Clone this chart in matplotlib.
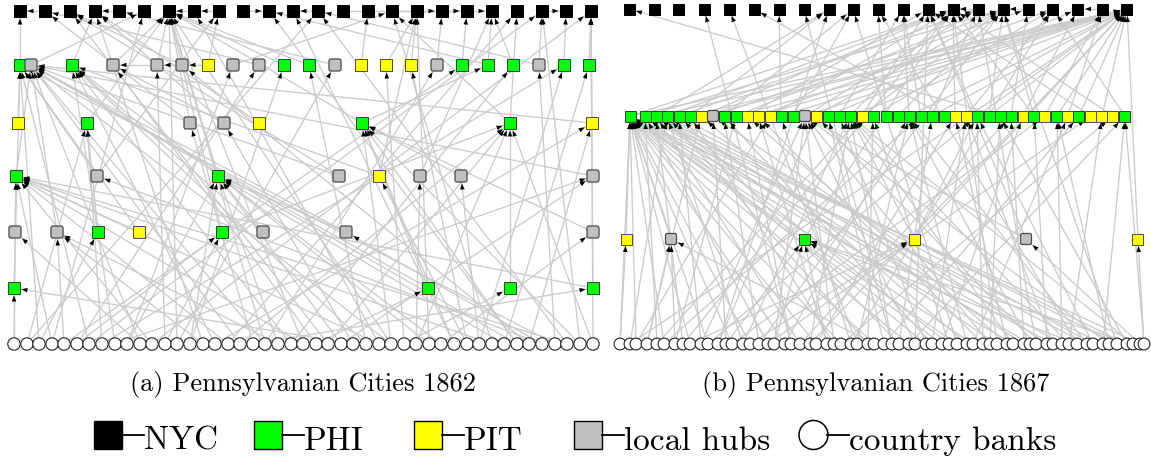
import matplotlib
matplotlib.use("Agg")
import matplotlib.pyplot as plt
import numpy as np
from matplotlib.collections import LineCollection, PolyCollection
from matplotlib.patches import Rectangle, FancyBboxPatch, Circle

plt.rcParams['font.family'] = ['cmr10', 'DejaVu Serif']

# node kinds: n = NYC, g = PHI, y = PIT, h = local hub, c = country bank
# ---------------- panel (a) 1862 ----------------
a_t_x = [20, 45, 70, 95, 119, 144, 169, 194, 219, 243, 269, 293,
         318, 343, 368, 392, 417, 442, 467, 492, 517, 542, 566, 591]
a_m_x = [20, 31, 72, 113, 157, 182, 208, 233, 259, 284, 309, 335,
         361, 386, 411, 437, 462, 488, 513, 539, 564, 589]
a_m_kind = "ghghhhyhhgghyyyhggghgg"
a_p_x = [18, 87, 190, 224, 259, 362, 510, 592]
a_p_kind = "yghhyggy"
a_q_x = [16, 97, 218, 339, 379, 420, 461, 593]
a_q_kind = "ghghyhhh"
a_s_x = [15, 57, 98, 139, 222, 263, 346, 593]
a_s_kind = "hhgyghhh"
a_u_x = [14, 428, 510, 593]
a_u_kind = "gggg"
a_c_x = [14, 27, 39, 52, 64, 77, 89, 102, 115, 127, 140, 152, 165, 177, 190, 203,
         215, 228, 240, 253, 265, 278, 291, 303, 316, 328, 341, 353, 366, 379, 391,
         404, 416, 429, 441, 454, 467, 479, 492, 504, 517, 529, 542, 555, 567, 580, 593]
a_rows_y = {'t': 12, 'm': 66, 'p': 124, 'q': 177, 's': 233, 'u': 289, 'c': 345}

a_edges = """
t1>t0 t4>t3 t7>t6 t8>t7 t9>t10 t12>t11 t15>t17 t16>t18 t13>t19 t21>t22
m0>t0 m2>t3 m11>t4 m1>t5 m3>t6 m4>t6 m9>t6 m10>t6 m5>t2 m15>t17 m16>t18 m17>t19
m18>t19 m19>t12 m19>t21 m20>t22 m21>t23 m12>t14 m13>t16 m14>t16 m17>t10 m6>t8
m7>t15 m8>t1 m5>m4 m6>m5 m4>m3
p0>m0 p1>t6 p2>t1 p2>t6 p3>m3 p3>t3 p4>t3 p5>t6 p5>m17 p6>t20 p6>t15 p7>t23 p7>m1
q1>m0 q1>t8 q2>t6 q3>t2 q3>m1 q4>m2 q5>t19 q6>p5 q7>m1 q0>m1 q4>t16
s0>q0 s1>m1 s2>p1 s3>q0 s4>p6 s4>t6 s5>m2 s6>q2 s7>p5 s5>q2 s3>m0 s6>m1
u0>m0 u1>p5 u2>p6 u3>t23 u1>m1 u3>q0
c0>u0 c0>q0 c1>p1 c1>t12 c2>m0 c2>s2 c3>q0 c3>t5 c4>s1 c4>m16 c5>m8 c5>s4
c6>m0 c6>t21 c7>p1 c7>m20 c8>m2 c8>q7 c9>m7 c9>q2 c10>m1 c10>s0 c11>q0 c11>t23
c12>m4 c12>s4 c13>m11 c13>t6 c14>q2 c14>m9 c15>t3 c15>s1 c16>m2 c16>p7 c17>q0
c17>t20 c18>p6 c18>m1 c19>p2 c19>u3 c20>m15 c20>t6 c20>m1 c21>q2 c21>s1 c22>m2
c22>m18 c23>q0 c23>t6 c24>m3 c24>u1 c25>p6 c25>t2 c26>q2 c26>q7 c27>p3 c27>u0
c28>m2 c28>m10 c29>q0 c29>t7 c30>p5 c30>m1 c30>t6 c31>m13 c31>u2 c32>q5 c32>p6
c33>q2 c33>t16 c34>m2 c34>s7 c35>p5 c35>t11 c36>m14 c36>q4 c37>q6 c37>m20
c38>q0 c38>t15 c39>q2 c39>m21 c40>p5 c40>m1 c40>t10 c41>p7 c41>m5 c42>q1 c42>s6
c43>m19 c43>m0 c44>q0 c44>t12 c45>p5 c45>t21 c46>p6 c46>t23
"""

# ---------------- panel (b) 1867 ----------------
b_t_x = [629, 654, 678, 704, 729, 754, 779, 804, 829, 853, 878, 903, 928, 953,
         978, 1003, 1028, 1053, 1078, 1103, 1127]
b_m_x = [630, 645, 656, 667, 679, 690, 701, 713, 724, 736, 747, 758, 770, 781,
         793, 805, 816, 828, 839, 850, 862, 873, 886, 898, 909, 921, 932, 944,
         955, 966, 977, 989, 1000, 1011, 1023, 1034, 1045, 1057, 1068, 1079,
         1091, 1102, 1113, 1125]
b_m_kind = "ggggggyhggyyygghygggygggggggyyggggygygygyyygy"[:44]
b_r_x = [626, 671, 804, 914, 1026, 1138]
b_r_kind = "yhgyhy"
b_c_x = [620, 630, 636, 647, 657, 664, 675, 683, 690, 701, 708, 718, 726, 732,
         743, 750, 759, 768, 774, 785, 791, 800, 810, 816, 827, 834, 841, 851,
         857, 868, 874, 884, 892, 899, 909, 915, 926, 932, 942, 949, 957, 967,
         973, 983, 990, 997, 1007, 1013, 1024, 1030, 1036, 1047, 1053, 1062,
         1069, 1077, 1087, 1093, 1103, 1109, 1117, 1127, 1133, 1140, 1144]
b_rows_y = {'t': 10, 'm': 117, 'r': 240, 'c': 345}

b_edges = """
t14>t13 t16>t15 t19>t18
m0>t20 m0>t13 m1>t15 m2>t8 m3>t13 m4>t14 m5>t8 m5>t20 m6>t13 m7>t16 m8>t9
m9>t15 m9>t20 m10>t12 m11>t17 m12>t13 m13>t6 m13>t20 m14>t9 m15>t14 m16>t15
m17>t18 m18>t11 m19>t13 m19>t20 m20>t12 m21>t17 m22>t10 m23>t15 m24>t11 m24>t20
m25>t11 m26>t14 m27>t5 m28>t13 m29>t17 m30>t12 m30>t20 m31>t15 m32>t0 m33>t16
m34>t18 m35>t15 m36>t19 m37>t20 m38>t19 m39>t20 m40>t12 m41>t20 m42>t13 m43>t17
m6>t20 m11>t20 m15>t20 m26>t20 m2>t20 m20>t15 m35>t13 m31>t20
r0>m0 r1>m0 r2>m0 r2>t13 r3>m19 r3>t20 r4>m15 r4>t12 r5>t20 r3>m30
c0>m0 c0>r0 c1>m3 c1>t20 c2>m0 c2>m12 c3>m6 c3>r1 c4>m1 c4>m20 c5>m0 c5>m25
c6>r1 c6>m9 c7>m2 c7>t13 c8>m0 c8>r3 c9>m15 c9>m4 c10>m0 c10>m30 c11>m16 c11>t8
c12>r2 c12>m7 c13>m0 c13>m36 c14>m19 c14>m3 c15>m0 c15>r3 c16>m8 c16>t15
c17>m1 c17>m40 c18>m15 c18>r2 c19>m0 c19>m24 c20>m10 c20>t3 c21>m2 c21>m33
c22>m19 c22>t20 c23>m0 c23>m28 c24>m11 c24>r2 c25>m15 c25>m5 c26>m0 c26>m42
c27>m13 c27>t17 c28>m24 c28>t4 c29>m3 c29>m21 c30>r1 c30>m0 c31>m17 c31>m39
c32>t7 c32>m19 c33>m4 c33>m26 c34>m0 c34>m43 c35>t12 c35>m15 c36>m18 c36>m1
c37>m29 c37>m8 c38>m0 c38>m34 c39>m21 c39>m2 c40>r2 c40>t9 c41>m24 c41>m6
c42>m0 c42>m38 c43>m30 c43>m11 c44>m15 c44>m32 c45>t13 c45>m2 c46>m28 c46>m10
c47>m0 c47>m19 c48>m33 c48>m3 c49>m1 c49>m24 c50>t14 c50>m16 c51>m35 c51>m7
c52>m0 c52>m29 c53>m2 c53>m37 c54>m19 c54>m41 c55>r2 c55>t10 c56>m1 c56>m24
c57>m4 c57>m30 c58>m0 c58>m43 c59>m15 c59>m37 c60>t15 c60>m3 c61>m2 c61>m32
c62>r2 c62>m19 c63>m1 c63>r4 c64>r5 c64>m43
"""

FILL = {'n': 'black', 'g': '#00ff00', 'y': '#ffff00', 'h': '#c0c0c0', 'c': 'white'}
EDGE = {'n': 'black', 'g': '#3a3a3a', 'y': '#4a4a4a', 'h': '#4a4a4a', 'c': '#222222'}


def build_nodes(layers, rows_y):
    nodes = {}
    for key, xs, kinds in layers:
        for i, x in enumerate(xs):
            nodes[key + str(i)] = (x, rows_y[key], kinds[i])
    return nodes


def draw_panel(ax, nodes, edges, sq, rad):
    segs, heads = [], []
    for e in edges.split():
        s, t = e.split('>')
        x0, y0, _ = nodes[s]
        x1, y1, _ = nodes[t]
        segs.append([(x0, y0), (x1, y1)])
        u = np.array([x1 - x0, y1 - y0], float)
        u /= np.hypot(*u)
        rim = (sq / 2) / max(abs(u[0]), abs(u[1]))
        tip = np.array([x1, y1]) - u * (rim + 1.5)
        base = tip - u * 6.0
        nrm = np.array([-u[1], u[0]])
        heads.append([tip, base + nrm * 2.3, base - nrm * 2.3])
    ax.add_collection(LineCollection(segs, colors='#cbcbcb', linewidths=0.95, zorder=1))
    ax.add_collection(PolyCollection(heads, facecolors='black', edgecolors='none', zorder=2))

    z = 3
    for key, (x, y, k) in nodes.items():
        z += 0.001
        if k == 'c':
            ax.add_patch(Circle((x, y), rad, fc='white', ec=EDGE[k], lw=0.8, zorder=z))
        elif k == 'h':
            ax.add_patch(FancyBboxPatch((x - sq / 2, y - sq / 2), sq, sq,
                                        boxstyle="round,pad=0,rounding_size=2",
                                        fc=FILL[k], ec=EDGE[k], lw=0.9, zorder=z))
        else:
            ax.add_patch(Rectangle((x - sq / 2, y - sq / 2), sq, sq,
                                   fc=FILL[k], ec=EDGE[k], lw=0.7, zorder=z))


fig = plt.figure(figsize=(11.51, 4.6), dpi=100)
ax = fig.add_axes([0, 0, 1, 1])
ax.set_xlim(0, 1151)
ax.set_ylim(460, 0)
ax.set_aspect('equal')
ax.axis('off')

a_nodes = build_nodes([('t', a_t_x, 'n' * len(a_t_x)), ('m', a_m_x, a_m_kind),
                       ('p', a_p_x, a_p_kind), ('q', a_q_x, a_q_kind),
                       ('s', a_s_x, a_s_kind), ('u', a_u_x, a_u_kind),
                       ('c', a_c_x, 'c' * len(a_c_x))], a_rows_y)
b_nodes = build_nodes([('t', b_t_x, 'n' * len(b_t_x)), ('m', b_m_x, b_m_kind),
                       ('r', b_r_x, b_r_kind), ('c', b_c_x, 'c' * len(b_c_x))], b_rows_y)

draw_panel(ax, a_nodes, a_edges, 12, 6.2)
draw_panel(ax, b_nodes, b_edges, 11, 5.9)

ax.text(303, 391, "(a) Pennsylvanian Cities 1862", fontsize=19, ha='center', va='baseline')
ax.text(876, 391, "(b) Pennsylvanian Cities 1867", fontsize=19, ha='center', va='baseline')

# legend
legend_items = [('n', 'NYC', 94), ('g', 'PHI', 254), ('y', 'PIT', 414),
                ('h', 'local hubs', 574), ('c', 'country banks', 799)]
for k, label, x in legend_items:
    if k == 'c':
        ax.add_patch(Circle((x + 14.5, 436), 14.5, fc='white', ec='black', lw=1.1))
    else:
        ax.add_patch(Rectangle((x, 422), 28, 28, fc=FILL[k], ec='black', lw=1.0))
    ax.plot([x + 28, x + 50], [436, 436], color='black', lw=1.3)
    ax.text(x + 50, 450, label, fontsize=24, ha='left', va='baseline')

fig.savefig("out.png", dpi=100)
